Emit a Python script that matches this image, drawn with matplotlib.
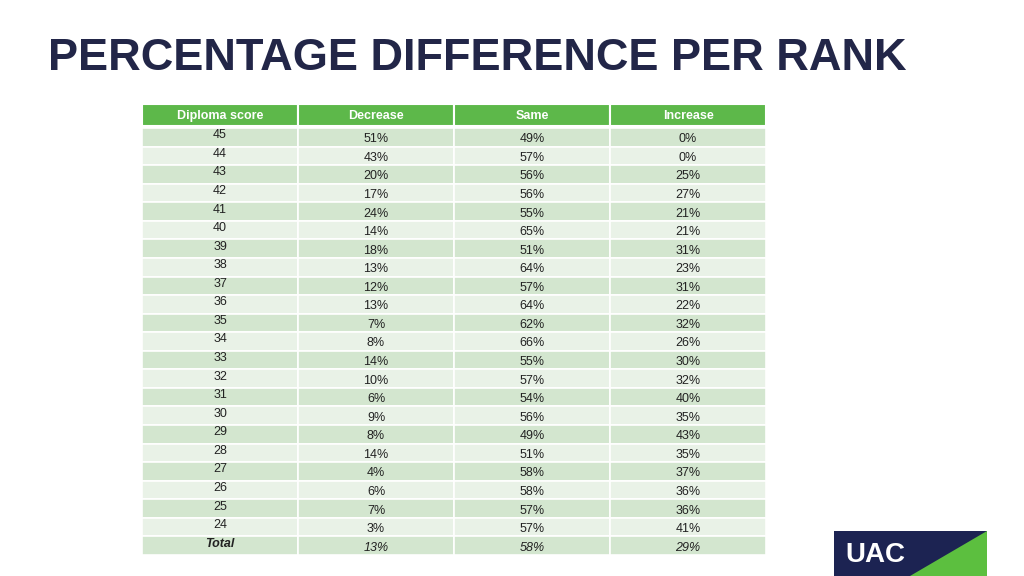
import matplotlib
matplotlib.use("Agg")
import matplotlib.pyplot as plt
from matplotlib.patches import Rectangle, Polygon

headers = ["Diploma score", "Decrease", "Same", "Increase"]
scores = ["45","44","43","42","41","40","39","38","37","36","35","34","33","32","31","30","29","28","27","26","25","24","Total"]
decrease = [51,43,20,17,24,14,18,13,12,13,7,8,14,10,6,9,8,14,4,6,7,3,13]
same = [49,57,56,56,55,65,51,64,57,64,62,66,55,57,54,56,49,51,58,58,57,57,58]
increase = [0,0,25,27,21,21,31,23,31,22,32,26,30,32,40,35,43,35,37,36,36,41,29]

fig = plt.figure(figsize=(10.24, 5.76), dpi=100)
ax = fig.add_axes([0, 0, 1, 1])
ax.set_xlim(0, 1024); ax.set_ylim(576, 0); ax.axis("off")

ax.text(48, 58, "PERCENTAGE DIFFERENCE PER RANK", fontsize=32.5, fontweight="bold",
        color="#222648", va="center", ha="left", family="Liberation Sans")

xe = [142, 298, 454, 610, 766]
hdr_top, hdr_bot = 104, 126
for i, h in enumerate(headers):
    ax.add_patch(Rectangle((xe[i], hdr_top), xe[i+1]-xe[i], hdr_bot-hdr_top, fc="#5db84a", ec="white", lw=1.5))
    ax.text((xe[i]+xe[i+1])/2, (hdr_top+hdr_bot)/2+1, h, color="white", fontsize=9,
            fontweight="bold", ha="center", va="center", family="Liberation Sans")

top = 128; rh = (555-128)/len(scores)
for r, s in enumerate(scores):
    y0 = top + r*rh
    fc = "#d3e6cf" if r % 2 == 0 else "#e9f2e7"
    vals = [s, f"{decrease[r]}%", f"{same[r]}%", f"{increase[r]}%"]
    total = s == "Total"
    for c in range(4):
        ax.add_patch(Rectangle((xe[c], y0), xe[c+1]-xe[c], rh, fc=fc, ec="white", lw=1.2))
        dy = -2 if c == 0 else 2
        ax.text((xe[c]+xe[c+1])/2, y0+rh/2+dy, vals[c], fontsize=9, ha="center", va="center",
                color="#222222", family="Liberation Sans",
                fontweight="bold" if (total and c == 0) else "normal",
                fontstyle="italic" if total else "normal")

ax.add_patch(Rectangle((834, 531), 153, 45, fc="#1c2352", ec="none"))
ax.add_patch(Polygon([[910, 576], [987, 531], [987, 576]], fc="#5cbf3f", ec="none"))
ax.text(845, 555, "UAC", color="white", fontsize=20, fontweight="bold", va="center",
        ha="left", family="Liberation Sans")

fig.savefig("out.png", dpi=100)
